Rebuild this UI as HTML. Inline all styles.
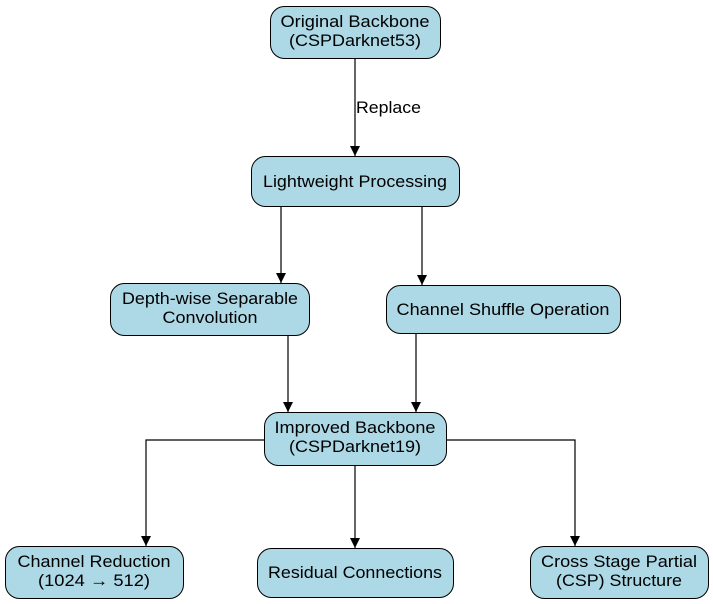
<!DOCTYPE html>
<html><head><meta charset="utf-8"><style>
html,body{margin:0;padding:0;background:#fff;}
svg{display:block;}
text{font-family:"Liberation Sans",Arial,sans-serif;font-size:16.5px;fill:#000;}
</style></head><body>
<svg width="713" height="604" viewBox="0 0 713 604" xmlns="http://www.w3.org/2000/svg">
<defs><marker id="a" markerWidth="10" markerHeight="12" refX="10" refY="5" orient="auto" markerUnits="userSpaceOnUse"><path d="M0,0 L10,5 L0,10 z" fill="#000"/></marker></defs>
<g stroke="#000" stroke-width="1.2" fill="none" marker-end="url(#a)">
<path d="M355,58 V156"/>
<path d="M281,206 V283"/>
<path d="M422,206 V285"/>
<path d="M288,335 V412"/>
<path d="M416,333 V412"/>
<path d="M264,440 H146 V546"/>
<path d="M355,465 V548"/>
<path d="M446,440 H575 V546"/>
</g>
<text x="356" y="113" textLength="65" lengthAdjust="spacingAndGlyphs">Replace</text>
<g fill="#add8e6" stroke="#000" stroke-width="1">
<rect x="270.5" y="6.5" width="170" height="52" rx="14"/>
<rect x="251.5" y="156.5" width="208" height="50" rx="14"/>
<rect x="110.5" y="283.5" width="199" height="52" rx="14"/>
<rect x="386.5" y="285.5" width="234" height="48" rx="14"/>
<rect x="264.5" y="412.5" width="182" height="53" rx="14"/>
<rect x="5.5" y="546.5" width="178" height="52" rx="14"/>
<rect x="257.5" y="548.5" width="196" height="49" rx="14"/>
<rect x="530.5" y="546.5" width="178" height="52" rx="14"/>
</g>
<g text-anchor="middle" lengthAdjust="spacingAndGlyphs">
<text x="355" y="27" textLength="149" lengthAdjust="spacingAndGlyphs">Original Backbone</text>
<text x="355" y="46" textLength="132" lengthAdjust="spacingAndGlyphs">(CSPDarknet53)</text>
<text x="355" y="187" textLength="184" lengthAdjust="spacingAndGlyphs">Lightweight Processing</text>
<text x="210" y="304" textLength="176" lengthAdjust="spacingAndGlyphs">Depth-wise Separable</text>
<text x="210" y="323" textLength="95" lengthAdjust="spacingAndGlyphs">Convolution</text>
<text x="503" y="315" textLength="213" lengthAdjust="spacingAndGlyphs">Channel Shuffle Operation</text>
<text x="355" y="433" textLength="161" lengthAdjust="spacingAndGlyphs">Improved Backbone</text>
<text x="355" y="452" textLength="132" lengthAdjust="spacingAndGlyphs">(CSPDarknet19)</text>
<text x="94" y="567" textLength="153" lengthAdjust="spacingAndGlyphs">Channel Reduction</text>
<text x="94" y="586" textLength="112" lengthAdjust="spacingAndGlyphs">(1024 → 512)</text>
<text x="355" y="578" textLength="174" lengthAdjust="spacingAndGlyphs">Residual Connections</text>
<text x="619" y="567" textLength="156" lengthAdjust="spacingAndGlyphs">Cross Stage Partial</text>
<text x="619" y="586" textLength="126" lengthAdjust="spacingAndGlyphs">(CSP) Structure</text>
</g>
</svg>
</body></html>
